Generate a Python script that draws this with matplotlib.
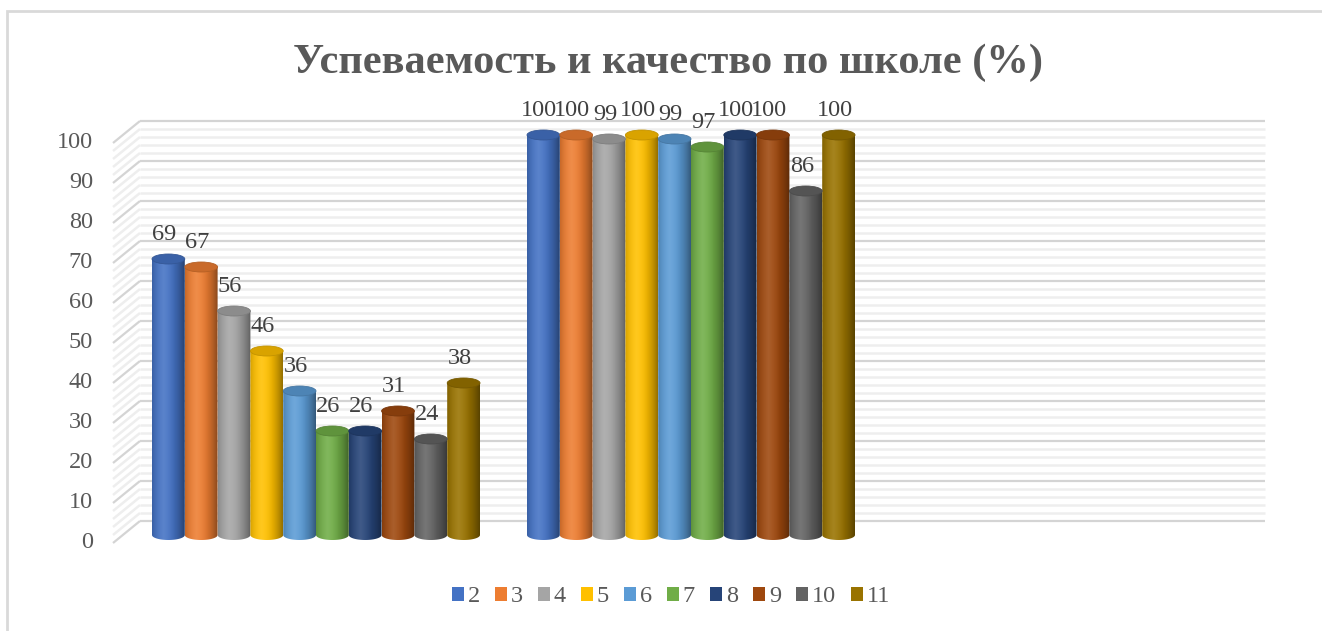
import numpy as np
import matplotlib
matplotlib.use("Agg")
import matplotlib.pyplot as plt
from matplotlib.patches import Ellipse, Patch, Rectangle, PathPatch
from matplotlib.path import Path

# data
groups = ["Успеваемость", "Качество", ""]
series = ["2", "3", "4", "5", "6", "7", "8", "9", "10", "11"]
group1 = [69, 67, 56, 46, 36, 26, 26, 31, 24, 38]
group2 = [100, 100, 99, 100, 99, 97, 100, 100, 86, 100]
colors = ["#4472C4", "#ED7D31", "#A5A5A5", "#FFC000", "#5B9BD5",
          "#70AD47", "#264478", "#9E480E", "#636363", "#997300"]
yticks = list(range(0, 101, 10))
title = "Успеваемость и качество по школе (%)"

FONT = "Liberation Serif"
GREY = "#595959"
FS = 17.5

W, H = 1322, 631
fig = plt.figure(figsize=(W / 100, H / 100), dpi=100)
ax = fig.add_axes([0, 0, 1, 1])
PX = 375.0   # pixels per group
PY = 4.0     # pixels per unit
x0px, y0px = 316, 535
ax.set_xlim(-x0px / PX, (W - x0px) / PX)
ax.set_ylim((y0px - H) / PY, y0px / PY)
ax.axis("off")

# pseudo 3d walls
front_dx, front_dy = (113 - x0px) / PX, (y0px - 543) / PY
back_dx, back_dy = (140 - x0px) / PX, (y0px - 521) / PY
back_right = (1265 - x0px) / PX

for v in range(0, 101, 2):
    major = v % 10 == 0
    c = "#d4d4d4" if major else "#eeeeee"
    lw = 1.6 if major else 1.8
    ax.plot([back_dx, back_right], [v + back_dy, v + back_dy], color=c, lw=lw,
            solid_capstyle="butt", zorder=1)
    ax.plot([front_dx, back_dx], [v + front_dy, v + back_dy], color=c, lw=lw,
            solid_capstyle="butt", zorder=1)

for v in yticks:
    ax.text(front_dx - 20 / PX, v + front_dy, str(v), ha="right", va="center",
            fontsize=FS, family=FONT, color=GREY)

# cylinders
bw = 32.8 / PX
n = len(series)
ell_h = 10 / PY


def shade(hexc, t):
    rgb = np.array(matplotlib.colors.to_rgb(hexc))
    # light near left-centre, darker at the edges
    k = 1.0 - 0.42 * ((t - 0.38) / 0.62) ** 2
    hi = np.clip((0.35 - np.abs(t - 0.35)) / 0.35, 0, 1) * 0.12
    out = rgb[None, :] * k[:, None]
    out = out + (1 - out) * hi[:, None]
    return np.clip(out, 0, 1)


t = np.linspace(0, 1, 64)
for gi, vals in enumerate([group1, group2]):
    xs = gi + (np.arange(n) - (n - 1) / 2) * bw
    bars = ax.bar(xs, vals, width=bw, color="none", edgecolor="none", zorder=2)
    for i, b in enumerate(bars):
        xl, w, h = b.get_x(), b.get_width(), b.get_height()
        xc = xl + w / 2
        ang = np.linspace(np.pi, 2 * np.pi, 40)
        bot = np.column_stack([xc + w / 2 * np.cos(ang), ell_h / 2 * np.sin(ang)])
        verts = np.vstack([bot, [[xl + w, h], [xl, h], bot[0]]])
        poly = PathPatch(Path(verts, closed=True), facecolor="none", edgecolor="none")
        ax.add_patch(poly)
        img = shade(colors[i], t)[None, :, :]
        im = ax.imshow(img, extent=[xl, xl + w, -ell_h, h], aspect="auto",
                       interpolation="bilinear", zorder=3 + i * 0.01)
        im.set_clip_path(poly)
        topc = np.array(matplotlib.colors.to_rgb(colors[i])) * 0.85
        ax.add_patch(Ellipse((xc, h), w, ell_h, facecolor=topc,
                             edgecolor=np.clip(topc * 0.9, 0, 1), lw=0.6,
                             zorder=3.5 + i * 0.01))
        ax.text(xc - 4 / PX, h + 24 / PY, str(vals[i]), ha="center", va="center",
                fontsize=FS, family=FONT, color="#404040", zorder=5)

# frame of the chart area (right and bottom edges are outside the image)
fig.patches.append(Rectangle((7 / W, -0.1), 2.0, 1.1 - 10.5 / H,
                             transform=fig.transFigure, fill=False,
                             edgecolor="#d9d9d9", lw=2))

fig.text(668 / W, 1 - 63 / H, title, ha="center", va="center", fontsize=30.5,
         fontweight="bold", family=FONT, color=GREY)

handles = [Patch(facecolor=c, edgecolor="none") for c in colors]
fig.legend(handles, series, loc="center", bbox_to_anchor=(671 / W, 1 - 597 / H),
           ncol=len(series), frameon=False, handlelength=0.5, handleheight=0.5,
           handletextpad=0.15, columnspacing=0.62,
           prop={"family": FONT, "size": FS}, labelcolor=GREY)

fig.savefig("out.png", dpi=100)
